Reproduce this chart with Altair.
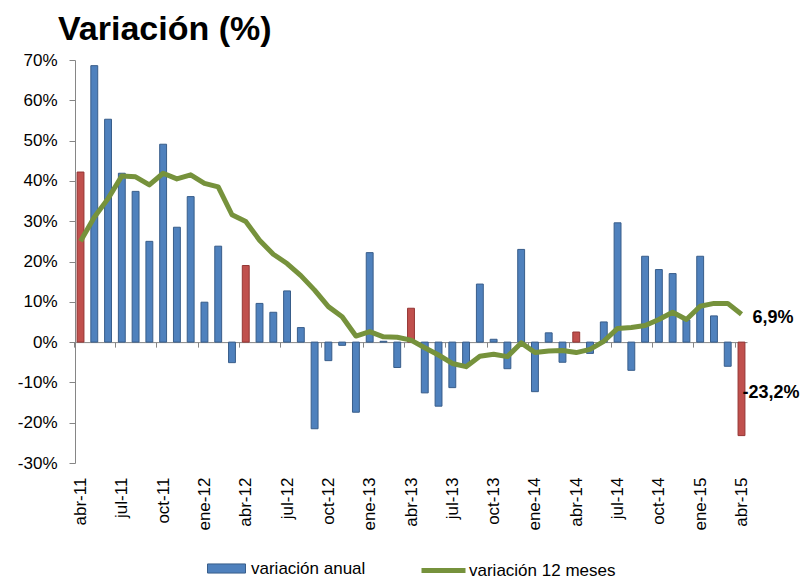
import altair as alt
import pandas as pd

# ---------------- data ----------------
months = [
    "abr-11", "may-11", "jun-11", "jul-11", "ago-11", "sep-11", "oct-11", "nov-11", "dic-11",
    "ene-12", "feb-12", "mar-12", "abr-12", "may-12", "jun-12", "jul-12", "ago-12", "sep-12",
    "oct-12", "nov-12", "dic-12", "ene-13", "feb-13", "mar-13", "abr-13", "may-13", "jun-13",
    "jul-13", "ago-13", "sep-13", "oct-13", "nov-13", "dic-13", "ene-14", "feb-14", "mar-14",
    "abr-14", "may-14", "jun-14", "jul-14", "ago-14", "sep-14", "oct-14", "nov-14", "dic-14",
    "ene-15", "feb-15", "mar-15", "abr-15",
]
variacion_anual = [
    42.2, 68.6, 55.3, 41.9, 37.4, 25.0, 49.1, 28.5, 36.1,
    9.9, 23.8, -5.1, 19.0, 9.6, 7.4, 12.7, 3.6, -21.5,
    -4.6, -0.8, -17.4, 22.2, 0.2, -6.3, 8.4, -12.6, -15.9,
    -11.3, -6.0, 14.4, 0.7, -6.6, 23.0, -12.3, 2.3, -5.0,
    2.5, -2.8, 5.0, 29.6, -7.0, 21.3, 18.0, 17.0, 5.5,
    21.3, 6.5, -6.0, -23.2,
]
variacion_12m = [
    25.0, 31.0, 35.6, 41.2, 41.0, 39.0, 41.9, 40.5, 41.5,
    39.4, 38.5, 31.6, 29.9, 25.3, 21.8, 19.5, 16.5, 12.9,
    8.8, 6.3, 1.5, 2.6, 1.3, 1.2, 0.5, -1.4, -3.2,
    -5.3, -6.1, -3.5, -3.0, -3.6, -0.2, -2.6, -2.2, -2.1,
    -2.6, -1.8, 0.2, 3.4, 3.6, 4.1, 5.6, 7.4, 5.6,
    8.9, 9.6, 9.6, 6.9,
]
highlight_months = ["abr-11", "abr-12", "abr-13", "abr-14", "abr-15"]
tick_labels = [
    "abr-11", "jul-11", "oct-11", "ene-12", "abr-12", "jul-12", "oct-12", "ene-13", "abr-13",
    "jul-13", "oct-13", "ene-14", "abr-14", "jul-14", "oct-14", "ene-15", "abr-15",
]
y_ticks = [-30, -20, -10, 0, 10, 20, 30, 40, 50, 60, 70]
ann_text = ["6,9%", "-23,2%"]
ann_month = ["abr-15", "abr-15"]
ann_value = [6.9, -23.2]

# ---------------- tables ----------------
df = pd.DataFrame({"mes": months, "anual": variacion_anual, "doce": variacion_12m})
df["abril"] = df["mes"].isin(highlight_months)
df["serie_bar"] = "variación anual"
df["serie_line"] = "variación 12 meses"
ann = pd.DataFrame({"texto": ann_text, "mes": ann_month, "valor": ann_value})

# ---------------- layout ----------------
W, H = 672, 403
P_IN, P_OUT = 0.5, 0.15
step = W / (len(months) - P_IN + 2 * P_OUT)
YMIN, YMAX = -30, 70
zero_offset = -H * (0 - YMIN) / (YMAX - YMIN)
FONT = "Liberation Sans"
GRAY = "#868686"

x_enc = alt.X(
    "mes:N",
    sort=months,
    scale=alt.Scale(type="band", paddingInner=P_IN, paddingOuter=P_OUT),
    axis=alt.Axis(
        values=tick_labels, title=None, labelAngle=-90, labelFontSize=17, labelFont=FONT,
        labelColor="black", labelPadding=130, tickSize=5, tickColor=GRAY, domainColor=GRAY,
        offset=zero_offset, tickOffset=-step / 2, labelOffset=step / 2, grid=False,
    ),
)
y_scale = alt.Scale(domain=[YMIN, YMAX], nice=False, zero=False)
y_axis = alt.Axis(
    values=y_ticks, labelExpr="datum.value + '%'", title=None, grid=False, tickSize=6,
    labelPadding=12, labelFontSize=17, labelFont=FONT, labelColor="black",
    tickColor=GRAY, domainColor=GRAY,
)

base = alt.Chart(df)

bars = base.mark_bar(strokeWidth=1).encode(
    x=x_enc,
    y=alt.Y("anual:Q", scale=y_scale, axis=y_axis),
    fill=alt.condition(
        "datum.abril",
        alt.value("#C0504D"),
        alt.Fill(
            "serie_bar:N",
            scale=alt.Scale(domain=["variación anual"], range=["#4F81BD"]),
            legend=alt.Legend(
                title=None, orient="none", legendX=132, legendY=489, padding=0,
                symbolType="M-1,-0.24H1V0.24H-1Z", symbolSize=1444,
                symbolStrokeColor="#385D8A", symbolStrokeWidth=1,
                labelFontSize=17, labelFont=FONT, labelColor="black", labelOffset=5,
            ),
        ),
    ),
    stroke=alt.condition("datum.abril", alt.value("#943634"), alt.value("#385D8A")),
)

line = base.mark_line(strokeWidth=5, strokeJoin="round").encode(
    x=alt.X("mes:N", sort=months),
    y=alt.Y("doce:Q"),
    stroke=alt.Stroke(
        "serie_line:N",
        scale=alt.Scale(domain=["variación 12 meses"], range=["#76923C"]),
        legend=alt.Legend(
            title=None, orient="none", legendX=344, legendY=486, padding=0,
            symbolType="stroke", symbolSize=1936, symbolStrokeWidth=5,
            labelFontSize=17, labelFont=FONT, labelColor="black", labelOffset=1,
        ),
    ),
)

ann_base = alt.Chart(ann)
txt1 = ann_base.transform_filter(alt.datum.texto == "6,9%").mark_text(
    align="left", baseline="middle", fontSize=18, fontWeight="bold", font=FONT,
    color="black", dx=11, dy=4,
).encode(x=alt.X("mes:N", sort=months), y="valor:Q", text="texto:N")
txt2 = ann_base.transform_filter(alt.datum.texto == "-23,2%").mark_text(
    align="left", baseline="middle", fontSize=18, fontWeight="bold", font=FONT,
    color="black", dx=1, dy=-43,
).encode(x=alt.X("mes:N", sort=months), y="valor:Q", text="texto:N")

chart = (
    alt.layer(bars, line, txt1, txt2)
    .resolve_legend(fill="independent", stroke="independent")
    .properties(
        width=W,
        height=H,
        autosize="none",
        padding={"left": 67, "top": 52, "right": 53, "bottom": 115},
        title=alt.TitleParams(
            "Variación (%)", anchor="start", frame="group", fontSize=34, font=FONT,
            fontWeight="bold", color="black", dx=-17, offset=4,
        ),
    )
    .configure_view(stroke=None)
)

chart.save("out.html", embed_options={"renderer": "svg", "actions": False})
